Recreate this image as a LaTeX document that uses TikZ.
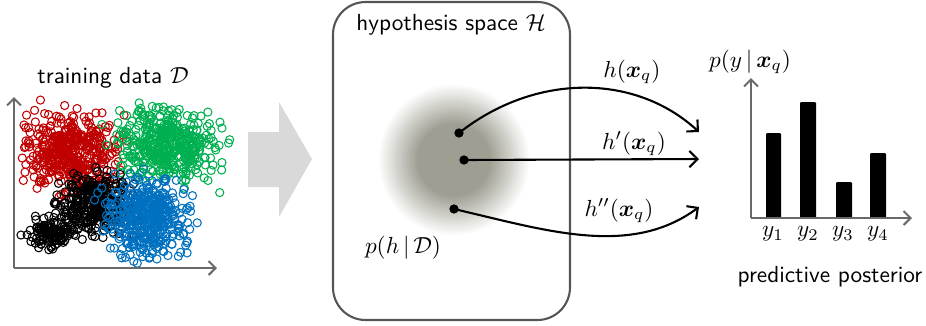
\documentclass[tikz,border=0pt]{standalone}
\usepackage{amsmath,bm}
\usetikzlibrary{arrows.meta}
\definecolor{cred}{RGB}{192,0,0}
\definecolor{cgreen}{RGB}{0,176,80}
\definecolor{cblue}{RGB}{0,112,192}
\definecolor{axisgray}{RGB}{105,105,105}
\definecolor{arrowgray}{RGB}{217,217,217}
\definecolor{boxgray}{RGB}{85,85,85}
\definecolor{blobc}{RGB}{158,158,146}
\newcommand\mycluster[6]{%
  \foreach \i in {1,...,#2}{%
    \pgfmathsetmacro\px{#3+#5*(rand+rand+rand)}%
    \pgfmathsetmacro\py{#4+#6*(rand+rand+rand)}%
    \draw[#1,line width=0.45pt] (\px,\py) circle[radius=1.75pt];}}
\begin{document}
\begin{tikzpicture}[x=0.43pt,y=-0.43pt,
  axis/.style={draw=axisgray,line width=0.9pt,-{Straight Barb[length=3pt,width=6pt]}},
  lbl/.style={inner sep=0pt,font=\sffamily},
  mlbl/.style={inner sep=0pt},
  dot/.style={circle,fill=black,inner sep=0pt,minimum size=4pt},
  harrow/.style={line width=0.9pt,-{Straight Barb[length=3.5pt,width=7pt]}},
  bar/.style={fill=black,rounded corners=0.5pt}]
\useasboundingbox (0,0) rectangle (926,325);
\pgfmathsetseed{7}
% training data
\node[lbl] (tdlabel) at (113,78) {training data $\mathcal{D}$};
\coordinate (o1) at (14,268);
\coordinate (y1top) at (14,97);
\coordinate (x1end) at (217,268);
\mycluster{cred}{420}{72}{150}{23}{19}
\mycluster{cgreen}{420}{167}{146}{24}{17}
\mycluster{black}{320}{95}{205}{19}{15}
\mycluster{black}{110}{50}{234}{12}{7}
\mycluster{cblue}{420}{146}{217}{19}{19}
\draw[axis] (o1) -- (y1top);
\draw[axis] (o1) -- (x1end);
% big arrow
\fill[arrowgray] (248,132) -- (279,132) -- (279,102) -- (312,159) -- (279,217) -- (279,187) -- (248,187) -- cycle;
% hypothesis space
\draw[boxgray,line width=0.9pt,rounded corners=14pt] (333,2) rectangle (570,320);
\node[lbl] (hslabel) at (451,25) {hypothesis space $\mathcal{H}$};
\foreach \k in {0,...,50}{%
  \pgfmathsetmacro\r{76-\k*40/50}%
  \pgfmathsetmacro\t{\k/50}%
  \pgfmathsetmacro\p{100*\t}%
  \fill[blobc!\p!white] (454,160) circle[radius=\r*0.43pt];}
\node[mlbl] (post) at (403,248) {$p(h\,|\,\mathcal{D})$};
\node[dot] (d1) at (459,133) {};
\node[dot] (d2) at (464,160) {};
\node[dot] (d3) at (454,209) {};
\coordinate (t1) at (699,132);
\coordinate (t2) at (699,159);
\coordinate (t3) at (699,207);
\draw[harrow] (d1.center) .. controls (535,73) and (635,73) .. (t1);
\draw[harrow] (d2.center) -- (t2);
\draw[harrow] (d3.center) .. controls (545,230) and (630,258) .. (t3);
\node[mlbl] (l1) at (632,72) {$h(\bm{x}_q)$};
\node[mlbl] (l2) at (634,144) {$h'(\bm{x}_q)$};
\node[mlbl] (l3) at (619,211) {$h''(\bm{x}_q)$};
% predictive posterior
\node[mlbl] (pylabel) at (750,62) {$p(y\,|\,\bm{x}_q)$};
\coordinate (o2) at (751,218);
\coordinate (y2top) at (751,78);
\coordinate (x2end) at (912,218);
\fill[bar] (766,133) rectangle (781,218);
\fill[bar] (800,102) rectangle (816,218);
\fill[bar] (836,182) rectangle (852,218);
\fill[bar] (870,153) rectangle (886,218);
\draw[axis] (o2) -- (y2top);
\draw[axis] (o2) -- (x2end);
\node[mlbl] (ya) at (773,234) {$y_1$};
\node[mlbl] (yb) at (808,234) {$y_2$};
\node[mlbl] (yc) at (843,234) {$y_3$};
\node[mlbl] (yd) at (878,234) {$y_4$};
\node[lbl] (pplabel) at (830,277) {predictive posterior};
\end{tikzpicture}
\end{document}
